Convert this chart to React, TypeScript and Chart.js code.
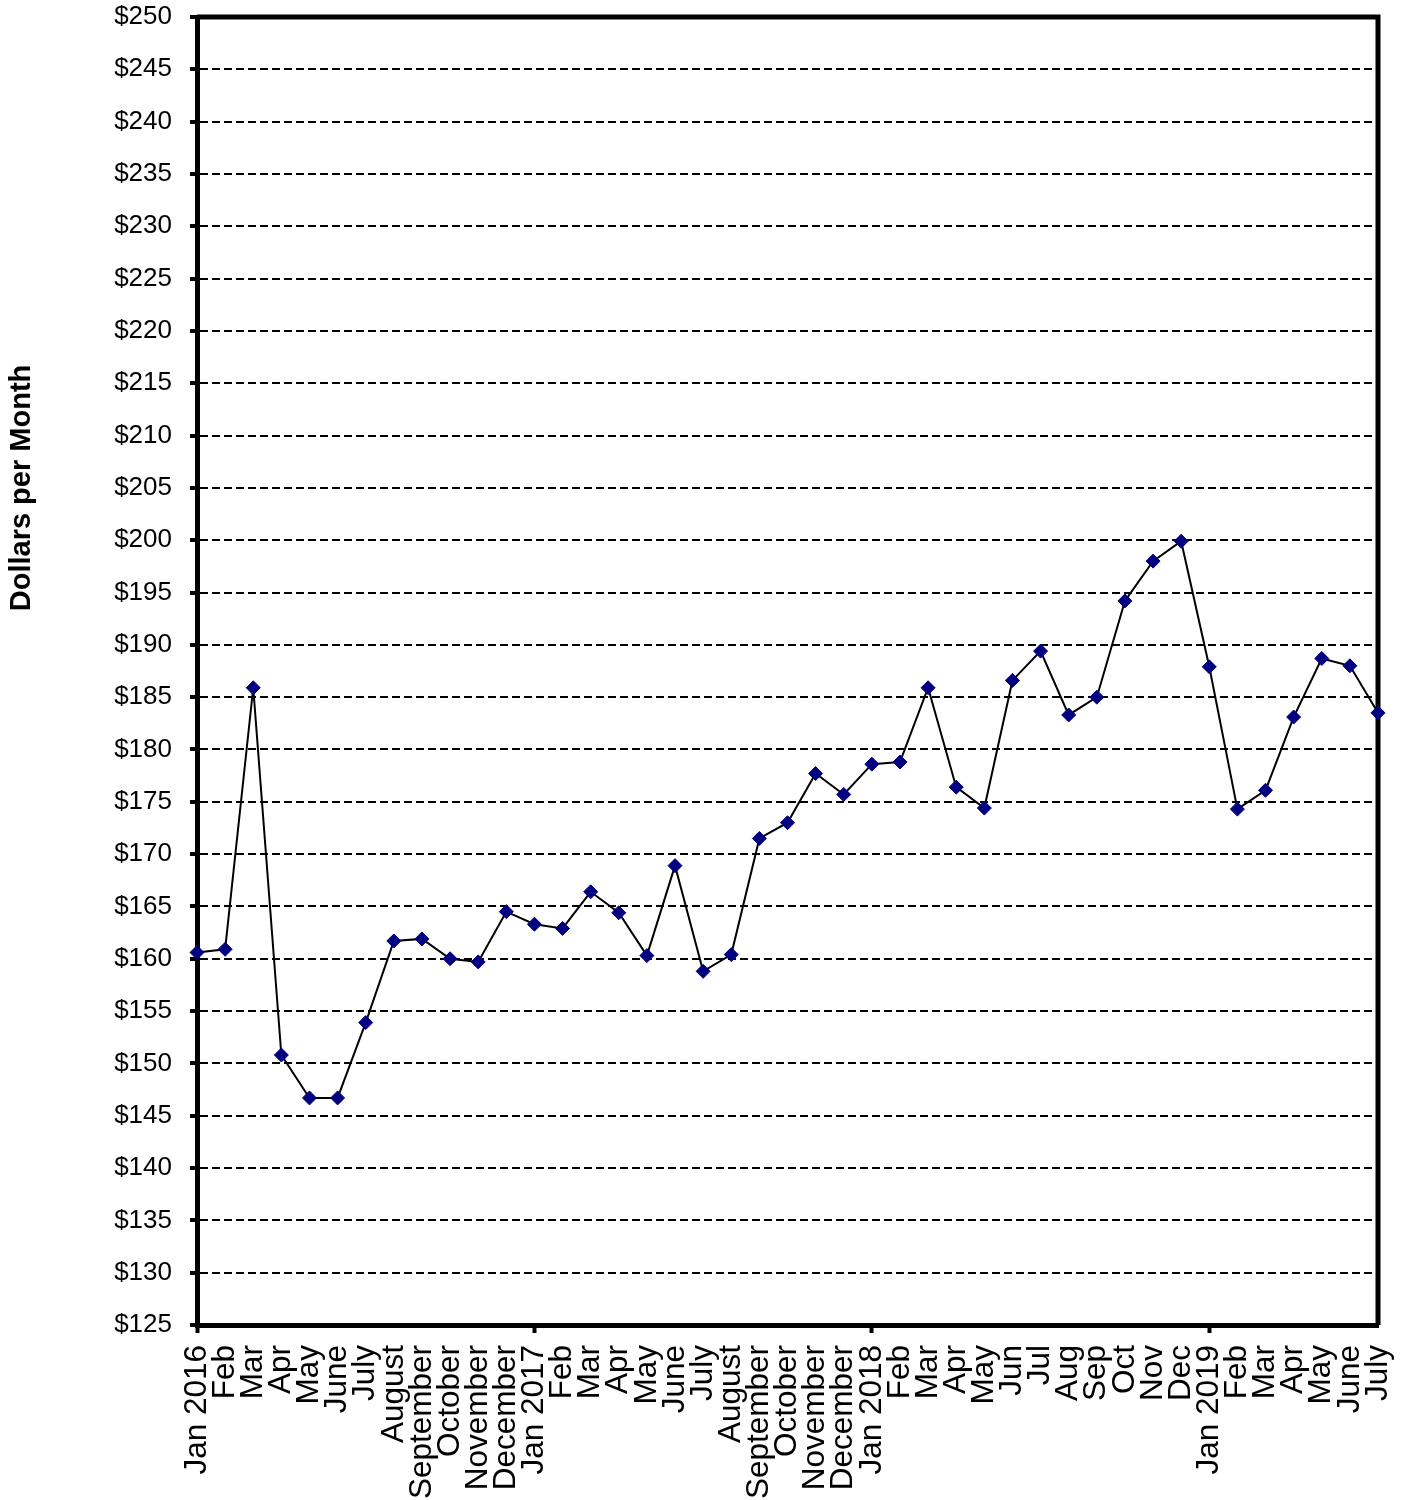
import React, { useEffect, useRef } from "react";
import { Chart, registerables } from "chart.js";

Chart.register(...registerables);

const labels: string[] = [
  "Jan 2016", "Feb", "Mar", "Apr", "May", "June", "July", "August", "September", "October", "November", "December",
  "Jan 2017", "Feb", "Mar", "Apr", "May", "June", "July", "August", "September", "October", "November", "December",
  "Jan 2018", "Feb", "Mar", "Apr", "May", "Jun", "Jul", "Aug", "Sep", "Oct", "Nov", "Dec",
  "Jan 2019", "Feb", "Mar", "Apr", "May", "June", "July",
];

const values: number[] = [
  160.6, 160.9, 185.9, 150.8, 146.7, 146.7, 153.9, 161.7, 161.9, 160.0, 159.7, 164.5,
  163.3, 162.9, 166.4, 164.4, 160.3, 168.9, 158.8, 160.4, 171.5, 173.0, 177.7, 175.7,
  178.6, 178.8, 185.9, 176.4, 174.4, 186.6, 189.4, 183.3, 185.0, 194.2, 198.0, 199.9,
  187.9, 174.3, 176.1, 183.1, 188.7, 188.0, 183.5,
];

const yMin = 125;
const yMax = 250;
const yStep = 5;
const yTitle = "Dollars per Month";
const yearStartIndices: number[] = [0, 12, 24, 36];

const FONT = "'Liberation Sans', Arial, Helvetica, sans-serif";

export default function App() {
  const canvasRef = useRef<HTMLCanvasElement | null>(null);

  useEffect(() => {
    const canvas = canvasRef.current;
    if (!canvas) return;

    const boxPlugin = {
      id: "boxPlugin",
      beforeDatasetsDraw(chart: any) {
        const { ctx, chartArea } = chart;
        ctx.save();
        ctx.strokeStyle = "#000";
        ctx.lineWidth = 5;
        ctx.setLineDash([]);
        ctx.beginPath();
        ctx.moveTo(chartArea.left, chartArea.top);
        ctx.lineTo(chartArea.right, chartArea.top);
        ctx.lineTo(chartArea.right, chartArea.bottom);
        ctx.stroke();
        ctx.restore();
      },
      afterDraw(chart: any) {
        const { ctx } = chart;
        ctx.save();
        ctx.translate(22, 488);
        ctx.rotate(-Math.PI / 2);
        ctx.font = `bold 29px ${FONT}`;
        ctx.fillStyle = "#000";
        ctx.textAlign = "center";
        ctx.textBaseline = "middle";
        ctx.fillText(yTitle, 0, 0);
        ctx.restore();
      },
    };

    const chart = new Chart(canvas, {
      type: "line",
      data: {
        labels,
        datasets: [
          {
            data: values,
            borderColor: "#000",
            borderWidth: 2,
            pointStyle: "rectRot",
            pointRadius: 7,
            pointBorderWidth: 1,
            pointBackgroundColor: "#000080",
            pointBorderColor: "#000080",
            tension: 0,
            clip: false as any,
          },
        ],
      },
      options: {
        responsive: false,
        animation: false,
        events: [],
        layout: { padding: { top: 17, right: 28, left: 0, bottom: 0 } },
        plugins: {
          legend: { display: false },
          tooltip: { enabled: false },
          title: { display: false },
        },
        scales: {
          x: {
            offset: false,
            afterFit(scale: any) {
              scale.height = 175;
              scale.paddingLeft = 0;
              scale.paddingRight = 0;
            },
            grid: {
              drawOnChartArea: false,
              drawTicks: true,
              tickLength: 8,
              tickWidth: 4,
              color: "transparent",
              tickColor: (ctx: any) =>
                yearStartIndices.includes(ctx.index) ? "#000" : "transparent",
            },
            border: { display: true, color: "#000", width: 5 },
            ticks: {
              autoSkip: false,
              maxRotation: 90,
              minRotation: 90,
              padding: 12,
              color: "#000",
              font: { family: FONT, size: 31.5 },
            },
          },
          y: {
            min: yMin,
            max: yMax,
            afterFit(scale: any) {
              scale.width = 197;
              scale.paddingTop = 0;
              scale.paddingBottom = 0;
            },
            grid: {
              color: "#000",
              lineWidth: 2,
              drawTicks: true,
              tickLength: 7,
              tickWidth: 4,
              tickColor: "#000",
              tickBorderDash: [],
            },
            border: { display: true, color: "#000", width: 5, dash: [8, 4] },
            ticks: {
              stepSize: yStep,
              padding: 18,
              color: "#000",
              font: { family: FONT, size: 26 },
              callback: (v: any) => "$" + v,
            },
          },
        },
      },
      plugins: [boxPlugin],
    });

    return () => chart.destroy();
  }, []);

  return (
    <div style={{ position: "absolute", left: 0, top: 0, width: 1406, height: 1500, background: "#fff" }}>
      <canvas ref={canvasRef} width={1406} height={1500} />
    </div>
  );
}
